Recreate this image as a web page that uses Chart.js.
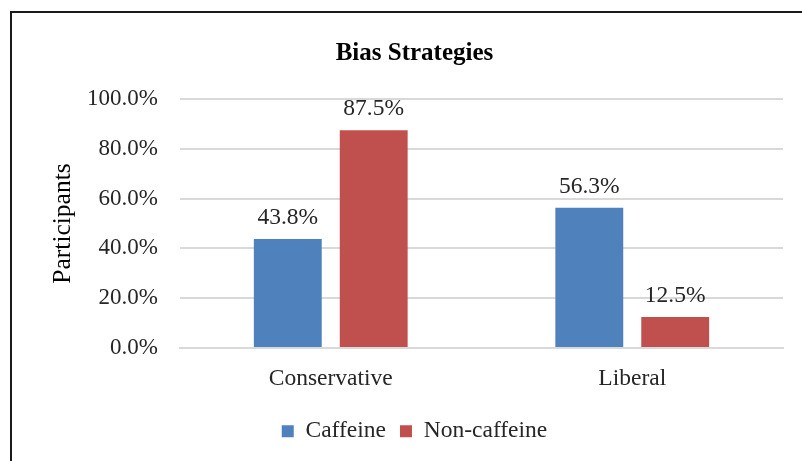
<!DOCTYPE html>
<html>
<head>
<meta charset="utf-8">
<script src="https://cdn.jsdelivr.net/npm/chart.js@4/dist/chart.umd.min.js"></script>
<style>
  html, body { margin: 0; padding: 0; background: #ffffff; }
  #wrap { width: 802px; height: 461px; position: relative; }
</style>
</head>
<body>
<div id="wrap"><canvas id="c" width="802" height="461"></canvas></div>
<script>
const categories = ['Conservative', 'Liberal'];
const caffeine = [43.8, 56.3];
const nonCaffeine = [87.5, 12.5];
const seriesNames = ['Caffeine', 'Non-caffeine'];
const yTicks = [0, 20, 40, 60, 80, 100];

const SERIF = '"Liberation Serif", "Times New Roman", serif';
const TEXT = '#262626';
const PLOT_BOTTOM = 348;
const PAD_BOTTOM = 8;

const frame = {
  id: 'frame',
  beforeDraw(chart) {
    const ctx = chart.ctx;
    ctx.save();
    ctx.fillStyle = '#ffffff';
    ctx.fillRect(0, 0, chart.width, chart.height);
    ctx.strokeStyle = '#1a1a1a';
    ctx.lineWidth = 2;
    ctx.beginPath();
    ctx.moveTo(11, chart.height);
    ctx.lineTo(11, 12);
    ctx.lineTo(chart.width, 12);
    ctx.stroke();
    ctx.restore();
  }
};

const valueLabels = {
  id: 'valueLabels',
  afterDatasetsDraw(chart) {
    const ctx = chart.ctx;
    ctx.save();
    ctx.font = '23.5px ' + SERIF;
    ctx.fillStyle = TEXT;
    ctx.textAlign = 'center';
    ctx.textBaseline = 'middle';
    chart.data.datasets.forEach((ds, i) => {
      chart.getDatasetMeta(i).data.forEach((bar, j) => {
        ctx.fillText(ds.data[j].toFixed(1) + '%', bar.x, bar.y - 21);
      });
    });
    ctx.restore();
  }
};

new Chart(document.getElementById('c'), {
  type: 'bar',
  data: {
    labels: categories,
    datasets: [
      { label: seriesNames[0], data: caffeine, backgroundColor: '#4F81BD', borderWidth: 0 },
      { label: seriesNames[1], data: nonCaffeine, backgroundColor: '#C0504D', borderWidth: 0 }
    ]
  },
  options: {
    responsive: false,
    animation: false,
    devicePixelRatio: 1,
    layout: { padding: { left: 46, right: 19, top: 0, bottom: PAD_BOTTOM } },
    categoryPercentage: 0.57,
    barPercentage: 0.79,
    plugins: {
      title: {
        display: true,
        text: 'Bias Strategies',
        color: '#000000',
        font: { family: SERIF, size: 25, weight: 'bold' },
        padding: { top: 38.5, bottom: 30.5 }
      },
      legend: {
        position: 'bottom',
        labels: {
          boxWidth: 12,
          boxHeight: 12,
          padding: 14,
          color: TEXT,
          font: { family: SERIF, size: 23.5 }
        }
      },
      tooltip: { enabled: false }
    },
    scales: {
      x: {
        afterFit(scale) {
          const lg = scale.chart.legend;
          const lh = lg ? lg.height : 0;
          scale.height = scale.chart.height - PLOT_BOTTOM - lh - PAD_BOTTOM;
        },
        grid: { display: false, drawTicks: false },
        border: { display: true, color: '#d9d9d9', width: 2 },
        ticks: { color: TEXT, font: { family: SERIF, size: 23.5 }, padding: 17 }
      },
      y: {
        min: 0,
        max: 100,
        afterBuildTicks(scale) { scale.ticks = yTicks.map(v => ({ value: v })); },
        afterFit(scale) { scale.width = 134; },
        grid: { color: '#d9d9d9', lineWidth: 2, drawTicks: false },
        border: { display: false },
        ticks: {
          color: TEXT,
          font: { family: SERIF, size: 23 },
          padding: 22,
          callback: v => v.toFixed(1) + '%'
        },
        title: {
          display: true,
          text: 'Participants',
          color: '#000000',
          font: { family: SERIF, size: 25.5 },
          padding: { top: 2, bottom: 0 }
        }
      }
    }
  },
  plugins: [frame, valueLabels]
});
</script>
</body>
</html>
